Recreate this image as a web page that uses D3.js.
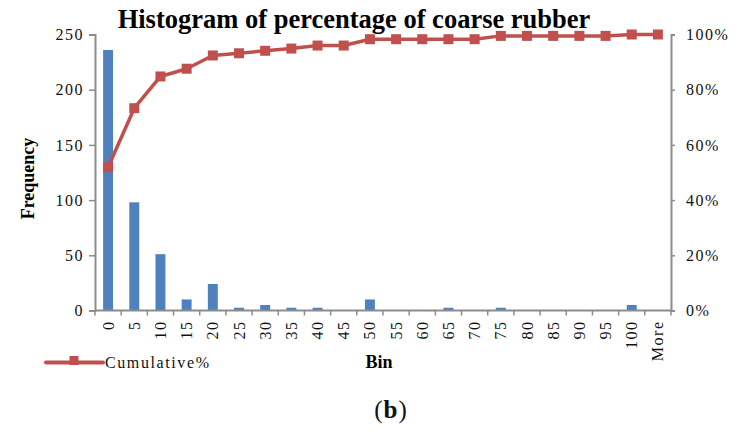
<!DOCTYPE html>
<html>
<head>
<meta charset="utf-8">
<script src="https://cdn.jsdelivr.net/npm/d3@7/dist/d3.min.js"></script>
<style>
  html, body { margin: 0; padding: 0; background: #fff; }
  svg { display: block; }
  text { font-family: "Liberation Serif", "Times New Roman", serif; }
</style>
</head>
<body>
<svg id="chart" width="738" height="430"></svg>
<script>
const categories = ["0","5","10","15","20","25","30","35","40","45","50","55","60","65","70","75","80","85","90","95","100","More"];
const frequency = [236, 98, 51, 10, 24, 2.5, 5, 2.5, 2.5, 0, 10, 0, 0, 2.5, 0, 2.5, 0, 0, 0, 0, 5, 0];
const cumulative = [0.519, 0.733, 0.848, 0.876, 0.924, 0.932, 0.941, 0.949, 0.960, 0.960, 0.983, 0.983, 0.983, 0.983, 0.983, 0.995, 0.995, 0.995, 0.995, 0.995, 1.0, 1.0];
const freqTicks = [0, 50, 100, 150, 200, 250];
const pctTicks = [0, 0.2, 0.4, 0.6, 0.8, 1.0];

const svg = d3.select("#chart");
const mLeft = 95, mRight = 671, mTop = 34.5, mBottom = 310.5;
const axisColor = "#8c8c8c";
const barColor = "#4F81BD";
const lineColor = "#C0504D";
const serif = '"Liberation Serif", "Times New Roman", serif';

const x = d3.scaleBand().domain(categories).range([mLeft, mRight]).paddingInner(0.62).paddingOuter(0.31);
const y = d3.scaleLinear().domain([0, 250]).range([mBottom, mTop]);
const yp = d3.scaleLinear().domain([0, 1]).range([mBottom, mTop]);

// Bars
svg.append("g").selectAll("rect").data(categories).join("rect")
  .attr("x", d => x(d))
  .attr("width", x.bandwidth())
  .attr("y", (d, i) => y(frequency[i]))
  .attr("height", (d, i) => mBottom - y(frequency[i]))
  .attr("fill", barColor);

// Left axis
const gl = svg.append("g").attr("transform", `translate(${mLeft},0)`)
  .call(d3.axisLeft(y).tickValues(freqTicks).tickSize(6).tickPadding(5));
// Right axis
const gr = svg.append("g").attr("transform", `translate(${mRight},0)`)
  .call(d3.axisRight(yp).tickValues(pctTicks).tickFormat(d3.format(".0%")).tickSize(4).tickPadding(11));
[gl, gr].forEach(g => {
  g.attr("font-family", serif);
  g.select(".domain").attr("stroke", axisColor).attr("stroke-width", 2);
  g.selectAll(".tick line").attr("stroke", axisColor).attr("stroke-width", 1.5);
  g.selectAll(".tick text").attr("fill", "#111").style("font-size", "16px")
    .style("letter-spacing", "1.5px").style("font-family", serif);
});

// Bottom axis (ticks at bin boundaries)
const step = x.step();
const gb = svg.append("g");
gb.append("line").attr("x1", mLeft).attr("x2", mRight).attr("y1", mBottom).attr("y2", mBottom)
  .attr("stroke", axisColor).attr("stroke-width", 2);
gb.selectAll("line.tk").data(d3.range(categories.length + 1)).join("line")
  .attr("class", "tk")
  .attr("x1", k => x.range()[0] + k * step).attr("x2", k => x.range()[0] + k * step)
  .attr("y1", mBottom).attr("y2", mBottom + 5)
  .attr("stroke", axisColor).attr("stroke-width", 1.5);
gb.selectAll("text").data(categories).join("text")
  .attr("transform", d => `translate(${x(d) + x.bandwidth() / 2 + 5.5},${mBottom + 10}) rotate(-90)`)
  .attr("text-anchor", "end")
  .style("font-family", serif)
  .style("font-size", "16px").style("letter-spacing", "1.5px")
  .attr("fill", "#111")
  .text(d => d);

// Cumulative line
const pts = categories.map((c, i) => [x(c) + x.bandwidth() / 2, yp(cumulative[i])]);
svg.append("path").attr("d", d3.line()(pts))
  .attr("fill", "none").attr("stroke", lineColor).attr("stroke-width", 3.5).attr("stroke-linejoin", "round");
svg.append("g").selectAll("rect").data(pts).join("rect")
  .attr("x", p => p[0] - 5).attr("y", p => p[1] - 5)
  .attr("width", 10).attr("height", 10).attr("fill", lineColor);

// Title
svg.append("text").attr("x", 354).attr("y", 28).attr("text-anchor", "middle")
  .style("font-family", serif)
  .style("font-size", "26.5px").style("font-weight", "bold").attr("fill", "#000")
  .text("Histogram of percentage of coarse rubber");

// Axis titles
svg.append("text").attr("transform", "translate(34,178.5) rotate(-90)").attr("text-anchor", "middle")
  .style("font-family", serif)
  .style("font-size", "18px").style("font-weight", "bold").attr("fill", "#000")
  .text("Frequency");
svg.append("text").attr("x", 379).attr("y", 368).attr("text-anchor", "middle")
  .style("font-family", serif)
  .style("font-size", "18px").style("font-weight", "bold").attr("fill", "#000")
  .text("Bin");

// Legend
svg.append("line").attr("x1", 46).attr("x2", 103).attr("y1", 362.5).attr("y2", 362.5)
  .attr("stroke", lineColor).attr("stroke-width", 4).attr("stroke-linecap", "round");
svg.append("rect").attr("x", 69.5).attr("y", 356).attr("width", 9).attr("height", 9).attr("fill", lineColor);
svg.append("text").attr("x", 105).attr("y", 368)
  .style("font-family", serif).style("font-size", "16px").style("letter-spacing", "1.6px")
  .attr("fill", "#111").text("Cumulative%");

// Caption
const cap = svg.append("text").attr("x", 391).attr("y", 418).attr("text-anchor", "middle")
  .style("font-family", serif)
  .style("font-size", "25px").style("letter-spacing", "1px").attr("fill", "#111");
cap.append("tspan").text("(");
cap.append("tspan").style("font-weight", "bold").text("b");
cap.append("tspan").text(")");
</script>
</body>
</html>
